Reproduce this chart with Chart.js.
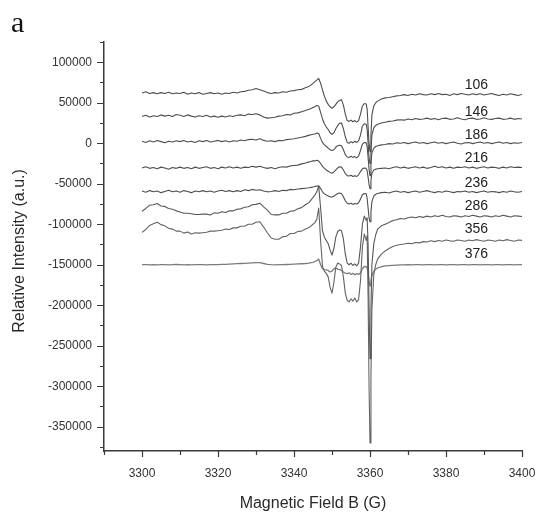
<!DOCTYPE html>
<html>
<head>
<meta charset="utf-8">
<script src="https://cdn.jsdelivr.net/npm/chart.js@4.4.1/dist/chart.umd.min.js"></script>
<style>
html,body{margin:0;padding:0;background:#fff}
#wrap{width:536px;height:512px;position:relative}
</style>
</head>
<body>
<div id="wrap"><canvas id="c" width="536" height="512"></canvas></div>
<script>
// Magnetic field (G) sampling points shared by every spectrum
const field = [
  3300,3301,3302,3303,3304,3305,3306,3307,3308,3309,3310,3311,3312,3313,3314,3315,3316,3317,3318,3319,
  3320,3321,3322,3323,3324,3325,3326,3327,3328,3329,3330,3331,3332,3333,3334,3335,3336,3337,3338,3339,
  3340,3341,3342,3343,3344,
  3344.5,3345,3345.5,3346,3346.5,3347,3347.5,3348,3348.5,3349,3349.5,3350,3350.5,3351,3351.5,3352,
  3352.5,3353,3353.5,3354,3354.5,3355,3355.5,3356,3356.5,3357,3357.5,3358,3358.5,3359,3359.25,3359.5,
  3359.75,3360,3360.25,3360.5,3361,3361.5,3362,3363,
  3364,3365,3366,3367,3368,3369,3370,3371,3372,3373,3374,3375,3376,3377,3378,3379,3380,3381,3382,3383,
  3384,3385,3386,3387,3388,3389,3390,3391,3392,3393,3394,3395,3396,3397,3398,3399,3400
];

// Relative intensity of each spectrum (stacked with a vertical offset)
const s106 = [
  62000,63500,61500,62500,61000,62500,61500,63000,61000,62000,61500,63000,60500,62000,61000,62500,60500,61500,62500,61000,
  62000,60500,62000,61500,63000,62000,63500,64000,65500,66000,67500,66000,64500,62500,61500,62500,62000,63500,63000,64500,
  65000,66000,66500,68500,70500,
  72000,74000,76000,78000,80000,74000,66000,58000,52000,48000,45000,43000,45000,48000,51000,53000,53500,47000,36000,28000,
  27000,28500,26500,28000,26000,28000,36000,46000,49000,48500,42000,20000,0,-10000,10000,35000,46000,50000,52000,54500,
  56000,56500,57500,58500,59000,60000,59000,60500,59500,61000,60000,59500,61000,60000,61500,60000,60500,59000,61000,60000,
  61500,60500,59500,61000,60000,61000,59500,60500,61500,60000,59000,60500,59500,61000,60000,59000,60500
];
const s146 = [
  33000,34500,32500,34000,33000,35000,33500,34500,33000,35500,34500,33000,35000,33500,32500,34000,33000,34500,32500,33500,
  32000,33500,32500,34000,33000,34500,35000,34000,36000,35500,36500,35000,32500,31000,31500,32000,33500,34000,35500,35000,
  37000,37500,39000,40500,42000,
  43000,44000,45000,46500,46000,38000,30000,24000,20000,17000,13000,11000,13000,18000,22000,24500,25000,18000,8000,1000,
  0,2000,500,2500,1000,3000,10000,21000,24000,23500,17000,0,-18000,-25000,-8000,10000,19000,22000,23500,25000,
  26000,27000,27500,28500,29000,28500,30000,29000,30500,29500,30000,31000,29500,30500,29000,30500,31000,29500,30000,31500,
  30000,29000,30500,31000,29500,30000,31500,30000,29500,30500,31000,29500,30000,31000,29500,30500,30000
];
const s186 = [
  2500,1000,3000,1500,3500,2000,500,2500,1500,3000,2000,3500,1500,2500,1000,3000,2000,3500,1500,2500,
  3500,2000,3000,1500,3000,2500,4000,3000,4500,5000,4000,5500,3500,2500,3000,2000,3500,3000,4500,5000,
  5500,6500,7500,8500,10000,
  10500,11000,11500,12500,12000,6000,1000,-2000,-4000,-6000,-8000,-9000,-8000,-5000,-3000,-2500,-3000,-8000,-14000,-17000,
  -17500,-16000,-17500,-16500,-18000,-16000,-9000,-1000,1000,500,-4000,-18000,-32000,-40000,-24000,-12000,-6000,-4000,-3000,-2000,
  -1500,-500,-1000,500,0,1000,-500,500,1500,0,1000,-500,500,1500,0,1000,-500,500,1500,0,
  -1000,500,1000,-500,500,1500,0,1000,-500,500,1500,0,1000,-500,500,0,1000
];
const s216 = [
  -30500,-29000,-31000,-30000,-31500,-29500,-30500,-32000,-30000,-31000,-29500,-31000,-30000,-31500,-29500,-31000,-30000,-29000,-31000,-30000,
  -31500,-29500,-30500,-29000,-30500,-29500,-31000,-29500,-30000,-28500,-29500,-28500,-30000,-31000,-30000,-31500,-30000,-29000,-29500,-28000,
  -27500,-27000,-25500,-24500,-23000,
  -22500,-21500,-22000,-21000,-22000,-25000,-28500,-31000,-33000,-34500,-36000,-37000,-35500,-33000,-30500,-29000,-29500,-33000,-37500,-40000,
  -40500,-39500,-41000,-40000,-41000,-39000,-35000,-31500,-30500,-31000,-34000,-42000,-51000,-56000,-46000,-37000,-33000,-32000,-31500,-31000,
  -30500,-31500,-30000,-29000,-30500,-29500,-31000,-30000,-29000,-30500,-29500,-31000,-30000,-28500,-30000,-29000,-30500,-29500,-31000,-29500,
  -30000,-29000,-30500,-29500,-31000,-30000,-29000,-30500,-29500,-30000,-31000,-29500,-30500,-29000,-30000,-29500,-30000
];
const s236 = [
  -59000,-60500,-58500,-60000,-59000,-61000,-59500,-58000,-60000,-59000,-60500,-58500,-59500,-61000,-59000,-60000,-58500,-60000,-59000,-60500,
  -59000,-58000,-59500,-58500,-60000,-58500,-59500,-57500,-58500,-57000,-58000,-57500,-59000,-60000,-59500,-58500,-59500,-58000,-58500,-57000,
  -57500,-56500,-56000,-55500,-55000,
  -54500,-54000,-53500,-53000,-52500,-56000,-60000,-62500,-64000,-65000,-66000,-66500,-65500,-63500,-62000,-61500,-62000,-66000,-71000,-74000,
  -75000,-74000,-75500,-74500,-75000,-73500,-69000,-63500,-62000,-62500,-68000,-80000,-92000,-97000,-85000,-72000,-65000,-63000,-62000,-61000,
  -60500,-61500,-60000,-59000,-60500,-59500,-61000,-60000,-59000,-60500,-59500,-58500,-60000,-61000,-59500,-60500,-59000,-60000,-61000,-59500,
  -60000,-59000,-60500,-59500,-61000,-60000,-59000,-60500,-59500,-60000,-61000,-59500,-60500,-59000,-60000,-60500,-59500
];
const s286 = [
  -84000,-80500,-76500,-76000,-74500,-77500,-78000,-80500,-81500,-83500,-85000,-86500,-86500,-87000,-88000,-88000,-87500,-87500,-88500,-86000,
  -86500,-84500,-85500,-83500,-83500,-81500,-81000,-79000,-78500,-76000,-75500,-74000,-78500,-82500,-88000,-88500,-88500,-86500,-86500,-84000,
  -83500,-81000,-79500,-76000,-73000,
  -70000,-67000,-64000,-60000,-53000,-80000,-108000,-116000,-120000,-124000,-132000,-138000,-130000,-116000,-109000,-107000,-108000,-118000,-137000,-148000,
  -150000,-148000,-151000,-149000,-151500,-148000,-128000,-100000,-90000,-95000,-92000,-125000,-200000,-266000,-205000,-150000,-124000,-113000,-106000,-102000,
  -100000,-98000,-95500,-94500,-93000,-93500,-92000,-91000,-92000,-90500,-91500,-90000,-91000,-89500,-90500,-89000,-90500,-91000,-89500,-90000,
  -91000,-89500,-90500,-89000,-90000,-91000,-89500,-90000,-91000,-89500,-90500,-89000,-90000,-91000,-89500,-90000,-90500
];
const s356 = [
  -110000,-106500,-101500,-99500,-97500,-100500,-102000,-105000,-106000,-108500,-108500,-111000,-109500,-112000,-110500,-111000,-110500,-110000,-108500,-108500,
  -108000,-107500,-106000,-106500,-104500,-104500,-102500,-102500,-100000,-100000,-97500,-97000,-103500,-110500,-117000,-118500,-118500,-115500,-115000,-111500,
  -111500,-109000,-108500,-106000,-104000,
  -102000,-100000,-98000,-94000,-80000,-120000,-152000,-158000,-161000,-165000,-178000,-185000,-172000,-153000,-148000,-149000,-151000,-165000,-185000,-194000,
  -196000,-192000,-195000,-191000,-196000,-193000,-170000,-128000,-112000,-120000,-114000,-190000,-300000,-370000,-290000,-205000,-162000,-150000,-143000,-137000,
  -133000,-130000,-127500,-126000,-125000,-124500,-123500,-124000,-122500,-123000,-121500,-122000,-120500,-121500,-120000,-121000,-119500,-120500,-121000,-119500,
  -120000,-121000,-119500,-120500,-119000,-120000,-121000,-119500,-120000,-121000,-119500,-120500,-119000,-120000,-121000,-119500,-120000
];
const s376 = [
  -150000,-149800,-150200,-149900,-150100,-149800,-150000,-150300,-150000,-149700,-150000,-150200,-149900,-150100,-150000,-149800,-150000,-150200,-149900,-150000,
  -149800,-149600,-149500,-149200,-149000,-148700,-148500,-148300,-148000,-147800,-147500,-147500,-148500,-149500,-150000,-150200,-150000,-149800,-149700,-149500,
  -149300,-149000,-148800,-148500,-148000,
  -147500,-147000,-146000,-145000,-143000,-150000,-155000,-156000,-156500,-157000,-159000,-158000,-155000,-154000,-155500,-156000,-157000,-159000,-160500,-161000,
  -160000,-162000,-160500,-162500,-161000,-162000,-160000,-155000,-152000,-152500,-154000,-160000,-170000,-176000,-170000,-163000,-158000,-155500,-154000,-152500,
  -151500,-151000,-150800,-150500,-150300,-150100,-150000,-150200,-149900,-150000,-150100,-149800,-150000,-150200,-149900,-150000,-150100,-149900,-150000,-150200,
  -149800,-150000,-150100,-149900,-150000,-150200,-149900,-150000,-150100,-149800,-150000,-150200,-149900,-150000,-150100,-149900,-150000
];

const seriesNames = ['106', '146', '186', '216', '236', '286', '356', '376'];
const seriesValues = [s106, s146, s186, s216, s236, s286, s356, s376];
// Intensity level at which each curve's name is written, and the field position of the names
const labelLevels = [72000, 38000, 10000, -18500, -49500, -78000, -106000, -137000];
const labelField = 3388;

// Axis ticks
const xMajor = [3300, 3320, 3340, 3360, 3380, 3400];
const xMinor = [3290, 3310, 3330, 3350, 3370, 3390];
const yMajor = [100000, 50000, 0, -50000, -100000, -150000, -200000, -250000, -300000, -350000];
const yMinor = [125000, 75000, 25000, -25000, -75000, -125000, -175000, -225000, -275000, -325000, -375000];

const SANS = '"Liberation Sans", Arial, Helvetica, sans-serif';
const lineColors = ['#4e4e4e', '#4e4e4e', '#4e4e4e', '#4e4e4e', '#4e4e4e', '#585858', '#646464', '#7c7c7c'];

const datasets = seriesNames.map((name, k) => ({
  label: name,
  data: field.map((b, i) => ({ x: b, y: seriesValues[k][i] })),
  borderColor: lineColors[k],
  borderWidth: k === 7 ? 1.3 : 1.1,
  pointRadius: 0,
  tension: 0,
  fill: false,
  borderJoinStyle: 'round'
}));

// Tick marks, curve names, axis titles and panel letter
const decor = {
  id: 'decor',
  afterDraw(chart) {
    const { ctx, chartArea: a } = chart;
    const xs = chart.scales.x, ys = chart.scales.y;
    ctx.save();
    ctx.strokeStyle = '#3a3a3a';
    ctx.lineWidth = 1.2;
    ctx.beginPath();
    const xt = (v, len) => { const p = Math.round(xs.getPixelForValue(v)) + 0.5; ctx.moveTo(p, a.bottom); ctx.lineTo(p, a.bottom + len); };
    const yt = (v, len) => { const p = Math.round(ys.getPixelForValue(v)) + 0.5; ctx.moveTo(a.left, p); ctx.lineTo(a.left - len, p); };
    xMajor.forEach(v => xt(v, 6));
    xMinor.forEach(v => xt(v, 4));
    yMajor.forEach(v => yt(v, 7));
    yMinor.forEach(v => yt(v, 4));
    ctx.stroke();

    ctx.fillStyle = '#222';
    ctx.textAlign = 'center';
    ctx.textBaseline = 'middle';
    ctx.font = '14px ' + SANS;
    seriesNames.forEach((n, i) => {
      ctx.fillText(n, xs.getPixelForValue(labelField), ys.getPixelForValue(labelLevels[i]));
    });

    ctx.font = '16px ' + SANS;
    ctx.textBaseline = 'alphabetic';
    ctx.fillStyle = '#2a2a2a';
    ctx.fillText('Magnetic Field B (G)', (a.left + a.right) / 2, 508);

    ctx.save();
    ctx.translate(24, 251);
    ctx.rotate(-Math.PI / 2);
    ctx.fillText('Relative Intensity (a.u.)', 0, 0);
    ctx.restore();

    ctx.textAlign = 'left';
    ctx.fillStyle = '#111';
    ctx.font = '30px "Liberation Serif", "Times New Roman", serif';
    ctx.fillText('a', 11, 32);
    ctx.restore();
  }
};

new Chart(document.getElementById('c').getContext('2d'), {
  type: 'line',
  data: { datasets },
  options: {
    responsive: false,
    animation: false,
    devicePixelRatio: 1,
    layout: { padding: { left: 0, right: 0, top: 42, bottom: 0 } },
    plugins: { legend: { display: false }, tooltip: { enabled: false } },
    scales: {
      x: {
        type: 'linear', min: 3290, max: 3400,
        afterBuildTicks: s => { s.ticks = xMinor.concat(xMajor).sort((p, q) => p - q).map(v => ({ value: v })); },
        afterFit: s => { s.height = 61; s.paddingLeft = 0; s.paddingRight = 14; },
        grid: { display: false },
        border: { display: true, color: '#3a3a3a', width: 1.5 },
        ticks: {
          autoSkip: false, maxRotation: 0, padding: 7, color: '#333',
          font: { family: SANS, size: 12 },
          callback: v => (xMajor.includes(v) ? String(v) : '')
        }
      },
      y: {
        type: 'linear', min: -380000, max: 125000,
        afterBuildTicks: s => { s.ticks = yMinor.concat(yMajor).sort((p, q) => p - q).map(v => ({ value: v })); },
        afterFit: s => { s.width = 104; s.paddingTop = 0; s.paddingBottom = 0; },
        grid: { display: false },
        border: { display: true, color: '#3a3a3a', width: 1.5 },
        ticks: {
          autoSkip: false, padding: 4, color: '#333',
          font: { family: SANS, size: 12 },
          callback: v => (yMajor.includes(v) ? String(v) : '')
        }
      }
    }
  },
  plugins: [decor]
});
</script>
</body>
</html>
